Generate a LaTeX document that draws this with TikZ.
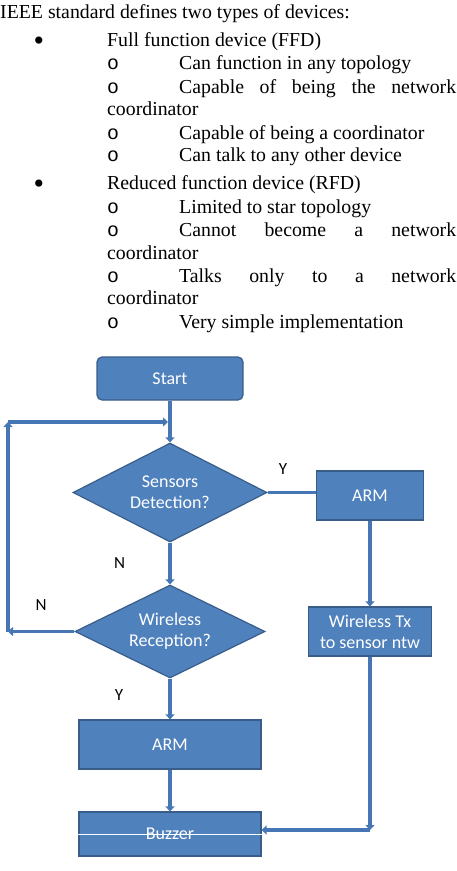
\documentclass[tikz,border=0pt]{standalone}
\usepackage{fontspec}
\setmainfont{Liberation Serif}
\setsansfont{Carlito}
\newfontfamily\hollowfont{Liberation Mono}
\usetikzlibrary{shapes.geometric,arrows.meta}
\definecolor{boxblue}{HTML}{4F81BD}
\definecolor{edgeblue}{HTML}{385D8A}
\definecolor{lineblue}{HTML}{4677B4}
\tikzset{
  listline/.style = {anchor=base west, inner sep=0pt,
                     font=\fontsize{19.8}{23}\selectfont},
  dotline/.style  = {anchor=base, inner sep=0pt,
                     font=\fontsize{30}{23}\selectfont},
  stepbox/.style  = {shape=rectangle, draw=edgeblue, fill=boxblue,
                     line width=1.2pt, text=white, align=center,
                     font=\sffamily\fontsize{18}{21}\selectfont,
                     inner sep=0pt},
  startbox/.style = {stepbox, rounded corners=5pt},
  decision/.style = {stepbox, diamond, aspect=2},
  flowline/.style = {draw=lineblue, line width=3.8pt,
                     -{Triangle[width=9pt,length=5pt]}},
  answer/.style   = {font=\sffamily\fontsize{17}{20}\selectfont, inner sep=0pt}
}
\newcommand{\sublistline}[3]{%
  \node[listline] (#1-o) at (107,#2) {\hollowfont o};
  \node[listline] (#1) at (179,#2) {#3};}
\newcommand{\spread}[1]{\makebox[277pt][s]{#1}}

\begin{document}
\begin{tikzpicture}[x=1pt, y=-1pt]
  \path[use as bounding box, clip] (0,0) rectangle (457,871);
  % device list
  \node[listline] (intro) at (0,18) {IEEE standard defines two types of devices:};
  \node[dotline] (ffd-dot) at (39,50) {•};
  \node[listline] (ffd) at (107,46) {Full function device (FFD)};
  \sublistline{ffd-1}{69}{Can function in any topology}
  \sublistline{ffd-2}{93}{\spread{Capable of being the network}}
  \node[listline] (ffd-2b) at (107,115) {coordinator};
  \sublistline{ffd-3}{139}{Capable of being a coordinator}
  \sublistline{ffd-4}{161}{Can talk to any other device}
  \node[dotline] (rfd-dot) at (39,193) {•};
  \node[listline] (rfd) at (107,189) {Reduced function device (RFD)};
  \sublistline{rfd-1}{213}{Limited to star topology}
  \sublistline{rfd-2}{236}{\spread{Cannot become a network}}
  \node[listline] (rfd-2b) at (107,259) {coordinator};
  \sublistline{rfd-3}{282}{\spread{Talks only to a network}}
  \node[listline] (rfd-3b) at (107,304) {coordinator};
  \sublistline{rfd-4}{328}{Very simple implementation}

  % flow chart
  \node[startbox, minimum width=146pt, minimum height=43pt] (start) at (170,378.5) {Start};
  \node[decision, minimum width=194pt, minimum height=99pt] (sensors) at (170,492.5) {Sensors\\Detection?};
  \node[stepbox, minimum width=107pt, minimum height=49pt] (armtx) at (370,495.5) {ARM};
  \node[decision, minimum width=190pt, minimum height=93pt] (wireless) at (170,631.5) {Wireless\\Reception?};
  \node[stepbox, minimum width=123pt, minimum height=49pt] (wtx) at (370,631.5) {Wireless Tx\\to sensor ntw};
  \node[stepbox, minimum width=182pt, minimum height=49pt] (armrx) at (170,744.5) {ARM};
  \node[stepbox, minimum width=182pt, minimum height=44pt] (buzzer) at (170,834) {Buzzer};
  \draw[white, line width=0.6pt] (buzzer.west) -- (buzzer.east);

  \coordinate (loopbot) at (8,631.5);
  \coordinate (looptop) at (8,422);
  \coordinate (loopend) at (168,422);
  \coordinate (txcorner) at (370,830);

  \draw[flowline] (start) -- (sensors);
  \draw[flowline, -] (sensors.east) -- node[answer, pos=0.32, above=16pt] {Y} (sensors.east -| armtx.west);
  \draw[flowline] (sensors) -- node[answer, left=43pt] {N} (wireless);
  \draw[flowline] (wireless) -- node[answer, pos=0.4, left=45pt] {Y} (armrx);
  \draw[flowline] (armrx) -- (buzzer);
  \draw[flowline] (armtx) -- (wtx);
  \draw[flowline] (wtx) -- (txcorner);
  \draw[flowline] (txcorner) -- (txcorner -| buzzer.east);
  \draw[flowline] (wireless) -- node[answer, pos=0.5, above=19pt] {N} (loopbot);
  \draw[flowline] (loopbot) -- (looptop);
  \draw[flowline] (looptop) -- (loopend);
\end{tikzpicture}
\end{document}
